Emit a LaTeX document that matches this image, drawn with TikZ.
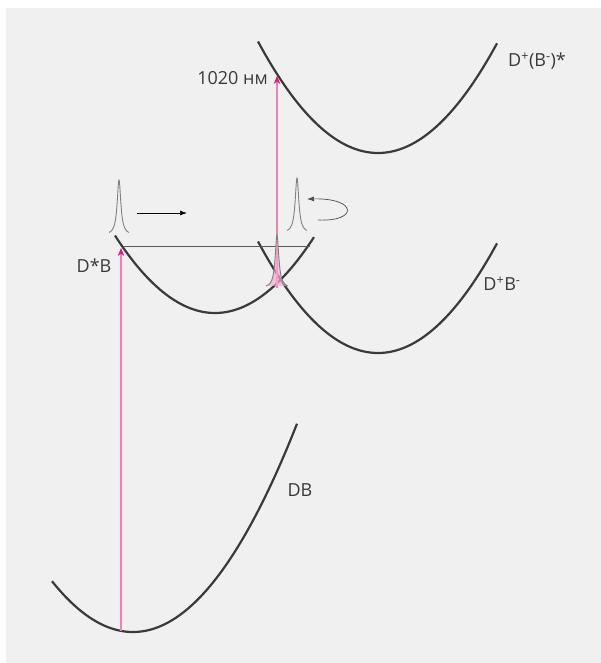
\documentclass[tikz,border=0pt]{standalone}
\usepackage{fontspec}
\setmainfont{Open Sans}
\usetikzlibrary{arrows.meta}
\definecolor{panel}{HTML}{F0F0F0}
\definecolor{curvegray}{HTML}{3A3A3A}
\definecolor{pumpmag}{HTML}{E0167E}
\tikzset{
  pes/.style={draw=curvegray, line width=2.2pt, samples=80},
  pump/.style={color=pumpmag!55, line width=1.1pt, -{Stealth[length=8pt,width=6.5pt,color=pumpmag]}},
  packet/.style={draw=gray, line width=0.9pt, samples=101},
  lbl/.style={font=\fontsize{18}{20}\selectfont, text=curvegray, inner sep=0pt},
}

\begin{document}
\begin{tikzpicture}[x=1pt,y=-1pt]
        % Frame
        \useasboundingbox (0,0) rectangle (601,663);
        \fill[white] (0,0) rectangle (601,663);
        \fill[panel] (6,8) rectangle (601,663);

        % Potential curves
        \draw[pes] plot[domain=52:297] (\x,{632-(0.088*(\x-133))^2});
        \draw[pes] plot[domain=115:314] (\x,{313-(0.088*(\x-215))^2});
        \draw[pes] plot[domain=258:497] (\x,{353-(0.088*(\x-378))^2});
        \draw[pes] plot[domain=258:497] (\x,{153-(0.088*(\x-378))^2});

        % Level of the excited state
        \coordinate (lv1) at (123,246);
        \coordinate (lv2) at (310,246);
        \draw[gray!70!black, line width=0.7pt] (lv1) -- (lv2);

        % Pump and probe
        \coordinate (db0) at (121,631);
        \coordinate (dsb) at (121,248);
        \coordinate (cx0) at (277,288);
        \coordinate (ion) at (277,76);
        \draw[pump] (db0) -- (dsb);
        \draw[pump] (cx0) -- (ion);

        % Wave packets
        \draw[packet] plot[domain=109:129] (\x,{235-55/(1+((\x-119)/2.2)^2)});
        \draw[packet] plot[domain=287:307] (\x,{233-55/(1+((\x-297)/2.2)^2)});
        \filldraw[packet, fill=pumpmag!35, fill opacity=0.7] plot[domain=266:288] (\x,{288-53/(1+((\x-277)/2.2)^2)});

        % Motion of the packet
        \coordinate (m1) at (137,213);
        \coordinate (m2) at (187,213);
        \draw[line width=0.7pt, -{Latex[length=7pt,width=5pt]}] (m1) -- (m2);
        \coordinate (r1) at (318,220);
        \coordinate (r2) at (307,199);
        \draw[gray!60!black, line width=0.7pt, -{Latex[length=7pt,width=5pt]}] (r1) .. controls (358,222) and (358,198) .. (r2);

        % Labels
        \node[lbl] (lDB) at (300,490) {DB};
        \node[lbl] (lDsB) at (94,266) {D*B};
        \node[lbl] (lDpBm) at (502,284) {D\textsuperscript{+}B\textsuperscript{-}};
        \node[lbl] (lDpBmx) at (537,61) {D\textsuperscript{+}(B\textsuperscript{-})*};
        \node[lbl, anchor=east] (lnm) at (268,78) {1020 нм};
      \end{tikzpicture}
\end{document}
